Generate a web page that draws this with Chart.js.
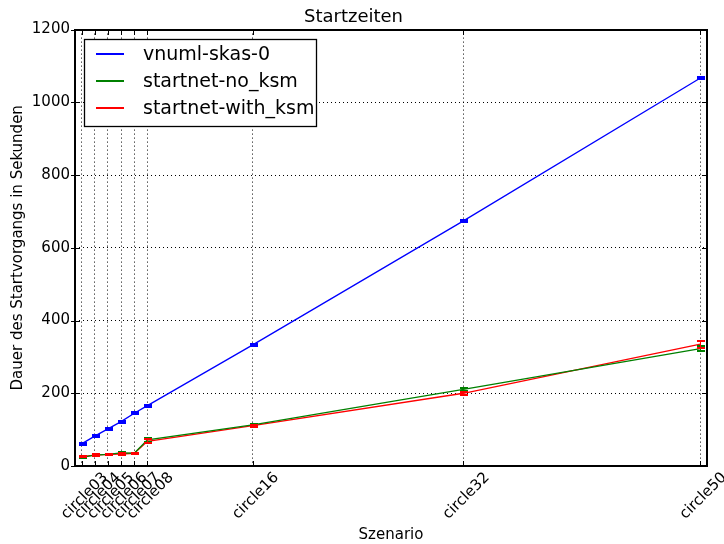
<!DOCTYPE html>
<html>
<head>
<meta charset="utf-8">
<script src="https://cdn.jsdelivr.net/npm/chart.js@4/dist/chart.umd.min.js"></script>
<style>
  html, body { margin: 0; padding: 0; background: #fff; }
  #wrap { width: 724px; height: 544px; }
</style>
</head>
<body>
<div id="wrap"><canvas id="startChart" width="724" height="544"></canvas></div>
<script>
// Szenarien (Anzahl Knoten) und ihre Beschriftungen
const nodes = [3, 4, 5, 6, 7, 8, 16, 32, 50];
const tickLabels = ['circle03', 'circle04', 'circle05', 'circle06', 'circle07', 'circle08', 'circle16', 'circle32', 'circle50'];

// Startdauer in Sekunden
const vnumlSkas = [61, 82, 102, 122, 145, 166, 333, 674, 1067];
const startnetNoKsm = [24, 30, 32, 36, 35, 72, 113, 211, 323];
const startnetWithKsm = [26, 30, 32, 33, 35, 68, 111, 200, 335];

// Fehlerbalken (+/-)
const vnumlErr = [3, 3, 3, 3, 3, 3, 3, 3, 3];
const noKsmErr = [2, 2, 2, 3, 2, 5, 3, 4, 6];
const withKsmErr = [2, 2, 2, 2, 2, 6, 3, 4, 10];

const yTicks = [0, 200, 400, 600, 800, 1000, 1200];

const seriesNames = ['vnuml-skas-0', 'startnet-no_ksm', 'startnet-with_ksm'];
const seriesColors = ['#0000ff', '#008000', '#ff0000'];

const FONT = "'DejaVu Sans', sans-serif";

function toPoints(values) {
    return nodes.map((n, i) => ({ x: n, y: values[i] }));
}

// Fehlerbalken mit Kappen
const errorBarPlugin = {
    id: 'errorBars',
    afterDatasetsDraw(chart) {
        const c = chart.ctx;
        const xs = chart.scales.x, ys = chart.scales.y;
        chart.data.datasets.forEach((ds, k) => {
            c.save();
            c.fillStyle = seriesColors[k];
            ds.data.forEach((p, i) => {
                const e = ds.errors[i];
                const px = Math.round(xs.getPixelForValue(p.x));
                const top = Math.round(ys.getPixelForValue(p.y + e));
                const bot = Math.round(ys.getPixelForValue(p.y - e));
                c.fillRect(px, top, 1, bot - top);
                c.fillRect(px - 3, top - 1, 8, 2);
                c.fillRect(px - 3, bot - 1, 8, 2);
            });
            c.restore();
        });
    }
};

// Rahmen, Ticks, gedrehte X-Beschriftungen, Legende
const framePlugin = {
    id: 'frame',
    afterDraw(chart) {
        const c = chart.ctx;
        const a = chart.chartArea;
        const xs = chart.scales.x, ys = chart.scales.y;
        c.save();
        c.fillStyle = '#000';
        const L = Math.round(a.left), R = Math.round(a.right);
        const T = Math.round(a.top), B = Math.round(a.bottom);
        // Rahmen, 2px
        c.fillRect(L - 1, T - 1, R - L + 2, 2);
        c.fillRect(L - 1, B - 1, R - L + 2, 2);
        c.fillRect(L - 1, T - 1, 2, B - T + 2);
        c.fillRect(R - 1, T - 1, 2, B - T + 2);

        nodes.forEach(n => {
            const px = Math.round(xs.getPixelForValue(n));
            c.fillRect(px, B - 5, 1, 5);
            c.fillRect(px, T, 1, 5);
        });
        yTicks.forEach(v => {
            const py = Math.round(ys.getPixelForValue(v));
            c.fillRect(L - 4, py, 9, 1);
            c.fillRect(R - 5, py, 5, 1);
        });

        // X-Beschriftungen, 45 Grad, zentriert
        c.font = '15px ' + FONT;
        c.textAlign = 'center';
        c.textBaseline = 'middle';
        nodes.forEach((n, i) => {
            const px = xs.getPixelForValue(n);
            c.save();
            c.translate(px + 3, a.bottom + 30);
            c.rotate(-Math.PI / 4);
            c.fillText(tickLabels[i], 0, 0);
            c.restore();
        });

        // Legende im Diagramm
        const lx = Math.round(a.left) + 9, ly = Math.round(a.top) + 9, lw = 232, lh = 87;
        c.fillStyle = '#fff';
        c.fillRect(lx, ly, lw, lh);
        c.strokeStyle = '#000';
        c.lineWidth = 1.3;
        c.strokeRect(lx + 0.5, ly + 0.5, lw, lh);
        c.font = '19px ' + FONT;
        c.textAlign = 'left';
        seriesNames.forEach((name, i) => {
            const ry = Math.round(ly + 14 + i * 27);
            c.fillStyle = seriesColors[i];
            c.fillRect(lx + 12, ry, 28, 2);
            c.fillStyle = '#000';
            c.fillText(name, lx + 59, ry + 2);
        });
        c.restore();
    }
};

const ctx = document.getElementById('startChart').getContext('2d');
new Chart(ctx, {
    type: 'line',
    data: {
        datasets: [
            { label: seriesNames[0], data: toPoints(vnumlSkas), errors: vnumlErr },
            { label: seriesNames[1], data: toPoints(startnetNoKsm), errors: noKsmErr },
            { label: seriesNames[2], data: toPoints(startnetWithKsm), errors: withKsmErr }
        ].map((d, i) => Object.assign(d, {
            borderColor: seriesColors[i], backgroundColor: seriesColors[i],
            borderWidth: 1.3, pointRadius: 0, tension: 0, fill: false
        }))
    },
    options: {
        responsive: false,
        animation: false,
        layout: { padding: { left: 0, right: 17, top: 0, bottom: 0 } },
        plugins: {
            legend: { display: false },
            tooltip: { enabled: false },
            title: {
                display: true,
                text: 'Startzeiten',
                color: '#000',
                font: { family: FONT, size: 18, weight: 'normal' },
                padding: { top: 7, bottom: 1 }
            }
        },
        scales: {
            x: {
                type: 'linear',
                min: 2.5,
                max: 50.5,
                afterBuildTicks(scale) { scale.ticks = nodes.map(v => ({ value: v })); },
                afterFit(scale) { scale.height = 78; },
                ticks: { display: false },
                grid: { color: '#000', lineWidth: 1, drawTicks: false },
                border: { display: false, dash: [1, 3] },
                title: {
                    display: true, text: 'Szenario', color: '#000',
                    font: { family: FONT, size: 15 }, padding: { top: 0, bottom: 0 }
                }
            },
            y: {
                min: 0,
                max: 1200,
                afterBuildTicks(scale) { scale.ticks = yTicks.map(v => ({ value: v })); },
                afterFit(scale) { scale.width = 75; },
                ticks: {
                    color: '#000', font: { family: FONT, size: 15 }, padding: 5,
                    callback: v => String(v)
                },
                grid: { color: '#000', lineWidth: 1, drawTicks: false },
                border: { display: false, dash: [1, 3] },
                title: {
                    display: true, text: 'Dauer des Startvorgangs in Sekunden', color: '#000',
                    font: { family: FONT, size: 15 }, padding: { top: 9, bottom: 0 }
                }
            }
        }
    },
    plugins: [errorBarPlugin, framePlugin]
});
</script>
</body>
</html>
